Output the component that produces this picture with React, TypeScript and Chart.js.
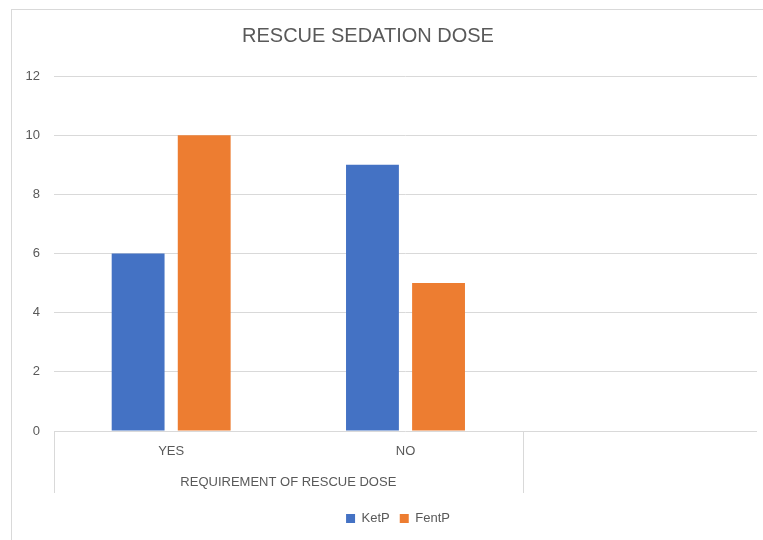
import React, { useEffect, useRef } from "react";
import { Chart, registerables } from "chart.js";

Chart.register(...registerables);

const categories = ["YES", "NO", ""];
const groupLabel = "REQUIREMENT OF RESCUE DOSE";
const ketP = [6, 9, null];
const fentP = [10, 5, null];
const yTicks = [0, 2, 4, 6, 8, 10, 12];
const titleText = "RESCUE SEDATION DOSE";

const FONT = "'Liberation Sans', sans-serif";
const TEXT = "#595959";
const GRID = "#d9d9d9";

const groupPlugin = {
  id: "groupLabels",
  afterLayout(chart: any) {
    const lg = chart.legend;
    if (lg) {
      lg.left += 14;
      lg.right += 14;
    }
  },
  afterDraw(chart: any) {
    const x = chart.scales.x;
    const ctx = chart.ctx;
    const bottom = chart.chartArea.bottom;
    const left = x.getPixelForValue(-0.5);
    const mid = x.getPixelForValue(1.5);
    ctx.save();
    ctx.strokeStyle = GRID;
    ctx.lineWidth = 1;
    ctx.beginPath();
    [left, mid].forEach((px: number) => {
      const p = Math.round(px) + 0.5;
      ctx.moveTo(p, bottom);
      ctx.lineTo(p, bottom + 62);
    });
    ctx.stroke();
    ctx.fillStyle = TEXT;
    ctx.font = `13px ${FONT}`;
    ctx.textAlign = "center";
    ctx.textBaseline = "middle";
    ctx.fillText(groupLabel, (left + mid) / 2, bottom + 51);
    ctx.font = `20px ${FONT}`;
    ctx.fillText(titleText, 368, 36);
    ctx.restore();
  },
};

export default function App() {
  const ref = useRef<HTMLCanvasElement>(null);
  useEffect(() => {
    document.body.style.margin = "0";
    const chart = new Chart(ref.current!, {
      type: "bar",
      data: {
        labels: categories,
        datasets: [
          { label: "KetP", data: ketP, backgroundColor: "#4472C4" },
          { label: "FentP", data: fentP, backgroundColor: "#ED7D31" },
        ],
      },
      options: {
        animation: false,
        responsive: false,
        layout: { padding: { top: 76, left: 11, right: 6, bottom: 5 } },
        datasets: { bar: { categoryPercentage: 0.564, barPercentage: 0.8 } },
        plugins: {
          title: { display: false },
          legend: {
            position: "bottom",
            labels: {
              boxWidth: 9,
              boxHeight: 9,
              color: TEXT,
              padding: 10,
              font: { family: FONT, size: 13 },
            },
          },
          tooltip: { enabled: false },
        },
        scales: {
          x: {
            grid: { display: false, drawTicks: false },
            border: { display: false },
            ticks: { color: TEXT, font: { family: FONT, size: 13 }, padding: 13 },
            afterFit(scale: any) {
              scale.height = 71;
            },
          },
          y: {
            min: 0,
            max: 12,
            afterBuildTicks(scale: any) {
              scale.ticks = yTicks.map((v) => ({ value: v }));
            },
            grid: { color: GRID, drawTicks: false },
            border: { display: false },
            ticks: { color: TEXT, font: { family: FONT, size: 13 }, padding: 14 },
            afterFit(scale: any) {
              scale.width = 43;
            },
          },
        },
      },
      plugins: [groupPlugin],
    });
    return () => chart.destroy();
  }, []);
  return (
    <div style={{ position: "relative", width: 763, height: 540 }}>
      <div
        style={{
          position: "absolute",
          left: 11,
          top: 9,
          width: 760,
          height: 540,
          borderTop: `1px solid ${GRID}`,
          borderLeft: `1px solid ${GRID}`,
        }}
      />
      <canvas ref={ref} width={763} height={540} style={{ position: "absolute", left: 0, top: 0 }} />
    </div>
  );
}
